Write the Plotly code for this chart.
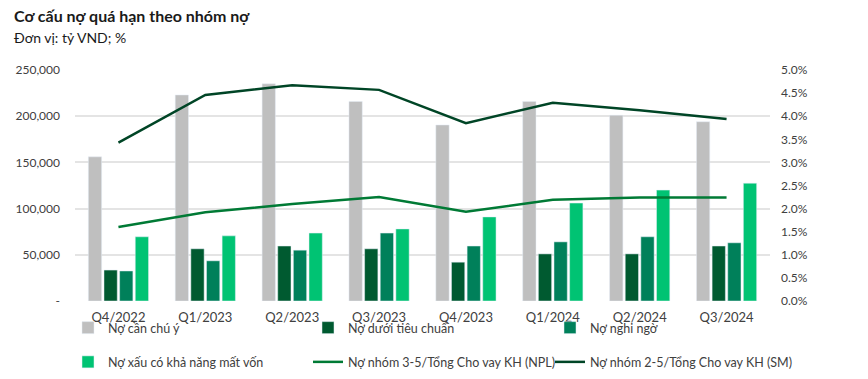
import plotly.graph_objects as go

categories = ["Q4/2022", "Q1/2023", "Q2/2023", "Q3/2023", "Q4/2023", "Q1/2024", "Q2/2024", "Q3/2024"]
no_can_chu_y = [156000, 223000, 235000, 216000, 190500, 216000, 201000, 194000]
no_duoi_tieu_chuan = [33500, 56500, 59500, 56500, 42000, 51000, 51000, 59500]
no_nghi_ngo = [32500, 43500, 55000, 73500, 59500, 64000, 69500, 63000]
no_mat_von = [69500, 70500, 73500, 78000, 91000, 106000, 120000, 127500]
npl = [1.60, 1.92, 2.10, 2.25, 1.93, 2.19, 2.24, 2.24]
sm = [3.43, 4.46, 4.67, 4.57, 3.85, 4.29, 4.13, 3.94]

left_ticks = [0, 50000, 100000, 150000, 200000, 250000]
left_ticktext = ["-", "50,000", "100,000", "150,000", "200,000", "250,000"]
right_ticks = [0, 0.5, 1, 1.5, 2, 2.5, 3, 3.5, 4, 4.5, 5]
right_ticktext = ["0.0%", "0.5%", "1.0%", "1.5%", "2.0%", "2.5%", "3.0%", "3.5%", "4.0%", "4.5%", "5.0%"]

C_GRAY = "#BFBFBF"
C_DARK = "#005A30"
C_MID = "#00805A"
C_LIGHT = "#00C373"
C_NPL = "#007A35"
C_SM = "#004526"

FONT = "Lato, 'Open Sans', sans-serif"
W, H = 860, 371

fig = go.Figure()
fig.add_trace(go.Bar(name="Nợ cần chú ý", x=categories, y=no_can_chu_y, marker_color=C_GRAY,
                     legend="legend", legendgroup="a"))
fig.add_trace(go.Bar(name="Nợ dưới tiêu chuẩn", x=categories, y=no_duoi_tieu_chuan, marker_color=C_DARK,
                     legend="legend2", legendgroup="b"))
fig.add_trace(go.Bar(name="Nợ nghi ngờ", x=categories, y=no_nghi_ngo, marker_color=C_MID,
                     legend="legend3", legendgroup="c"))
fig.add_trace(go.Bar(name="Nợ xấu có khả năng mất vốn", x=categories, y=no_mat_von, marker_color=C_LIGHT,
                     legend="legend", legendgroup="d"))
fig.add_trace(go.Scatter(name="Nợ nhóm 3-5/Tổng Cho vay KH (NPL)", x=categories, y=npl, mode="lines",
                         line=dict(color=C_NPL, width=2.5), yaxis="y2", legend="legend2", legendgroup="e"))
fig.add_trace(go.Scatter(name="Nợ nhóm 2-5/Tổng Cho vay KH (SM)", x=categories, y=sm, mode="lines",
                         line=dict(color=C_SM, width=2.5), yaxis="y2", legend="legend3", legendgroup="f"))

legend_common = dict(orientation="v", xref="container", yref="container", xanchor="left", yanchor="top",
                     y=1 - 305 / H, tracegroupgap=15,
                     font=dict(family=FONT, size=12.5, color="#404040"), bgcolor="rgba(0,0,0,0)",
                     traceorder="grouped")

fig.update_layout(
    width=W, height=H,
    margin=dict(l=67, r=98, t=62, b=78, autoexpand=False),
    paper_bgcolor="white", plot_bgcolor="white",
    barmode="group", bargap=0.28, bargroupgap=0.15,
    font=dict(family=FONT, size=12, color="#595959"),
    title=dict(text="<b>Cơ cấu nợ quá hạn theo nhóm nợ</b><br><span style='font-size:14px;font-weight:normal'>Đơn vị: tỷ VND; %</span>",
               x=6 / W, xanchor="left", y=0.962, yanchor="top", font=dict(family=FONT, size=16, color="#1a1a1a")),
    xaxis=dict(showgrid=False, showline=False, ticks="", ticklabelstandoff=7,
               tickfont=dict(size=13, color="#404040")),
    yaxis=dict(range=[0, 250000], tickvals=left_ticks, ticktext=left_ticktext, showgrid=True,
               gridcolor="#E4E4E4", gridwidth=1.5, zeroline=False, ticks="", ticklabelstandoff=14,
               tickfont=dict(size=12, color="#404040")),
    yaxis2=dict(range=[0, 5], tickvals=right_ticks, ticktext=right_ticktext, overlaying="y", side="right",
                showgrid=False, zeroline=False, ticks="", ticklabelstandoff=10,
                tickfont=dict(size=12, color="#404040")),
    legend=dict(x=60 / W, **legend_common),
    legend2=dict(x=300 / W, **legend_common),
    legend3=dict(x=542 / W, **legend_common),
)

fig.write_html("out.html")
